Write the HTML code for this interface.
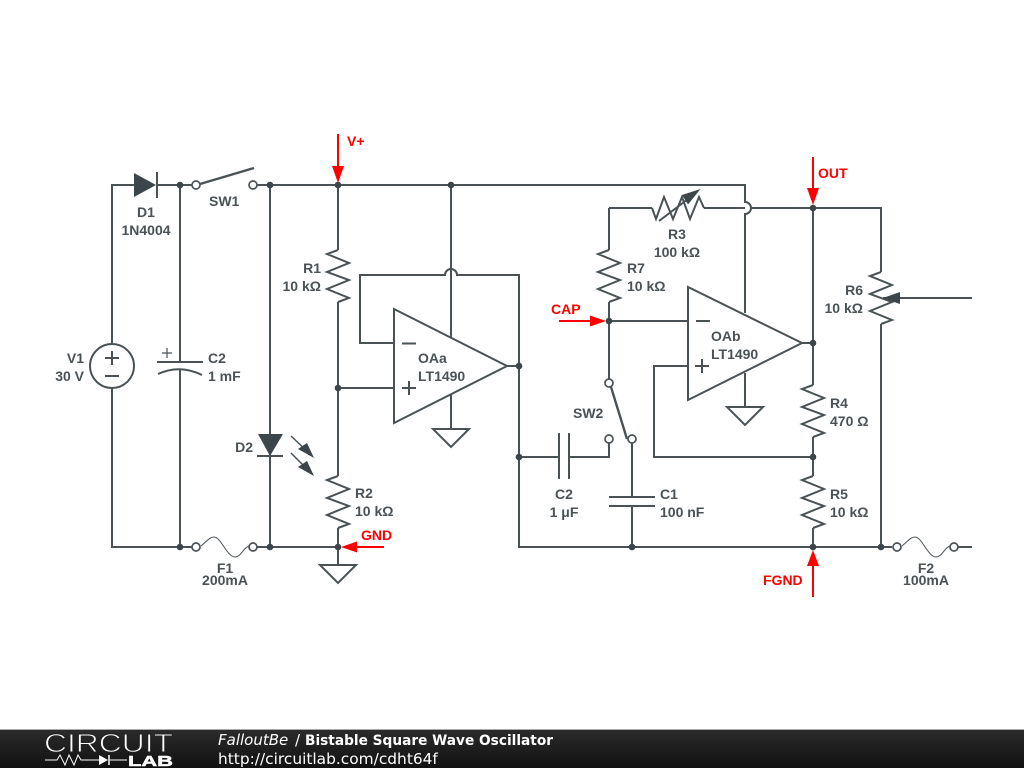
<!DOCTYPE html>
<html><head><meta charset="utf-8"><style>
html,body{margin:0;padding:0;background:#fff;width:1024px;height:768px;overflow:hidden}
svg{display:block}
.w{fill:none;stroke:#4a5256;stroke-width:2}
.t{font:bold 14px "Liberation Sans",sans-serif;fill:#4a5256}
.m{text-anchor:middle}.e{text-anchor:end}
.red{font:bold 14px "Liberation Sans",sans-serif;fill:#f00}
.d{fill:#3c4549}
.o{fill:#fff;stroke:#4a5256;stroke-width:1.7}
.th{fill:none;stroke:#4a5256;stroke-width:1}
.r{fill:#f00}.rl{stroke:#f00;stroke-width:2;fill:none}
</style></head><body>
<svg width="1024" height="768" viewBox="0 0 1024 768" xmlns="http://www.w3.org/2000/svg">
<defs>
<path id="res" d="M0,0L-11,4L11,13L-11,22L11,30L-11,39L11,48L0,52" fill="none" stroke="#4a5256" stroke-width="2"/>
<path id="gnd" d="M-18,0H18L0,18Z" fill="#fff" stroke="#4a5256" stroke-width="2"/>
<path id="fuse" d="M5,-1C12,-7 14,-10 18,-10C25,-10 31,10 39,10C45,10 47,1 53,-1" fill="none" stroke="#4a5256" stroke-width="1"/>
</defs>

<!-- wires -->
<path class="w" d="M112,344V185H134M157,185H192M257,185H745V202A6,6 0 0 1 745,214V313"/>
<path class="w" d="M112,388V547H192M257,547H338M180,185V362M180,369V547M270,185V547"/>
<path class="w" d="M338,185V250M338,302V476M338,528V565M338,388H394"/>
<path class="w" d="M451,185V338M451,395V429M394,343H360V275H445A6,6 0 0 1 457,275H519V547H892M507,366H519"/>
<path class="w" d="M519,457H559M569,457H609V443M632,443V497M632,506V547"/>
<path class="w" d="M609,208V250M609,302V379M609,321H688M609,208H652M704,208H745M751,208H881V272M881,324V547M813,208V385M813,437V476M813,528V547M802,343H813"/>
<path class="w" d="M688,366H654V457H813M745,373V407M958,547H972"/>
<path class="w" d="M883,298H972"/>

<!-- D1 -->
<path class="d" d="M134,173L156,185L134,197Z"/>
<path class="w" d="M157,172V198"/>
<!-- SW1 -->
<path class="w" d="M200,184L254,168" style="stroke-width:2.4"/>
<!-- V1 -->
<circle class="o" cx="112" cy="366" r="22" style="stroke-width:2"/>
<path class="w" d="M105,358H119M112,351V365M105,376H119"/>
<!-- C2 polar -->
<path class="w" d="M157,362H203"/>
<path class="w" d="M158,374Q180,364 202,375"/>
<path class="th" d="M162,353H172M167,348V358" style="stroke-width:1.2"/>
<!-- D2 -->
<path class="d" d="M258,434H283L270,456Z"/>
<path class="w" d="M257,456H283"/>
<path class="w" d="M291,436L308,452M291,453L308,470" style="stroke-width:1.5"/>
<path class="d" d="M314,458L298,449L307,443Z"/>
<path class="d" d="M314,476L298,467L307,461Z"/>

<!-- resistors -->
<use href="#res" x="338" y="250"/>
<use href="#res" x="338" y="476"/>
<use href="#res" x="609" y="250"/>
<use href="#res" x="813" y="385"/>
<use href="#res" x="813" y="476"/>
<use href="#res" x="881" y="272"/>
<path class="w" d="M652,208L656,219L664,197L673,219L682,197L690,219L699,197L704,208"/>
<path class="w" d="M659,221L688,199"/>
<path class="d" d="M700.5,189L682,195L688,204.5Z"/>
<path class="d" d="M883,298L900,292V304Z"/>

<!-- grounds -->
<use href="#gnd" x="338" y="565"/>
<use href="#gnd" x="451" y="429"/>
<use href="#gnd" x="745" y="407"/>

<!-- opamps -->
<path d="M394,309V423L507,366Z" fill="#fff" stroke="#4a5256" stroke-width="2"/>
<path d="M688,287V400L802,343Z" fill="#fff" stroke="#4a5256" stroke-width="2"/>
<path class="w" d="M402,343.5H416M402,388H416M409,381V395M696,321H710M695,366H709M702,359V373"/>

<!-- C2/C1 -->
<path class="w" d="M559,433V479M569,433V479M609,497H655M609,506H655"/>
<!-- SW2 -->
<path class="w" d="M611,387L627,439" style="stroke-width:2.4"/>

<!-- fuses -->
<use href="#fuse" x="196" y="547"/>
<use href="#fuse" x="897" y="547"/>

<!-- terminals -->
<circle class="o" cx="196" cy="185" r="4"/><circle class="o" cx="253" cy="185" r="4"/>
<circle class="o" cx="196" cy="547" r="4"/><circle class="o" cx="253" cy="547" r="4"/>
<circle class="o" cx="897" cy="547" r="4"/><circle class="o" cx="954" cy="547" r="4"/>
<circle class="o" cx="609" cy="383" r="4"/><circle class="o" cx="609" cy="439" r="4"/><circle class="o" cx="632" cy="439" r="4"/>

<!-- dots -->
<g class="d">
<circle cx="180" cy="185" r="3.3"/><circle cx="270" cy="185" r="3.3"/><circle cx="338" cy="185" r="3.3"/><circle cx="451" cy="185" r="3.3"/>
<circle cx="180" cy="547" r="3.3"/><circle cx="270" cy="547" r="3.3"/><circle cx="338" cy="547" r="3.3"/>
<circle cx="338" cy="388" r="3.3"/><circle cx="519" cy="366" r="3.3"/><circle cx="519" cy="457" r="3.3"/>
<circle cx="632" cy="547" r="3.3"/><circle cx="813" cy="547" r="3.3"/><circle cx="881" cy="547" r="3.3"/>
<circle cx="609" cy="321" r="3.3"/><circle cx="813" cy="208" r="3.3"/><circle cx="813" cy="343" r="3.3"/><circle cx="813" cy="457" r="3.3"/>
</g>

<!-- red probes -->
<path class="rl" d="M338,134V170M384,547H355M559,321H594M813,157V192M813,597V562"/>
<path class="r" d="M332,166H344L338,183Z"/>
<path class="r" d="M341,547L357,541.5V552.5Z"/>
<path class="r" d="M606,321L590,315.5V326.5Z"/>
<path class="r" d="M807,188H819L813,205Z"/>
<path class="r" d="M807,566H819L813,550Z"/>
<text class="red" x="347" y="146">V+</text>
<text class="red" x="361" y="540">GND</text>
<text class="red" x="551" y="314">CAP</text>
<text class="red" x="818" y="178">OUT</text>
<text class="red" x="763" y="585">FGND</text>

<!-- labels -->
<text class="t m" x="146" y="217">D1</text><text class="t m" x="146" y="235">1N4004</text>
<text class="t" x="209" y="206">SW1</text>
<text class="t e" x="84" y="363">V1</text><text class="t e" x="84" y="381">30 V</text>
<text class="t" x="208" y="363">C2</text><text class="t" x="208" y="381">1 mF</text>
<text class="t e" x="253" y="452">D2</text>
<text class="t e" x="321" y="273">R1</text><text class="t e" x="321" y="291">10 kΩ</text>
<text class="t" x="355" y="498">R2</text><text class="t" x="355" y="516">10 kΩ</text>
<text class="t m" x="225" y="573">F1</text><text class="t m" x="225" y="585">200mA</text>
<text class="t" x="418" y="363">OAa</text><text class="t" x="418" y="381">LT1490</text>
<text class="t" x="573" y="418">SW2</text>
<text class="t m" x="564" y="499">C2</text><text class="t m" x="564" y="517">1 μF</text>
<text class="t" x="660" y="499">C1</text><text class="t" x="660" y="517">100 nF</text>
<text class="t m" x="677" y="239">R3</text><text class="t m" x="677" y="257">100 kΩ</text>
<text class="t" x="627" y="273">R7</text><text class="t" x="627" y="291">10 kΩ</text>
<text class="t" x="711" y="341">OAb</text><text class="t" x="711" y="359">LT1490</text>
<text class="t e" x="863" y="295">R6</text><text class="t e" x="863" y="313">10 kΩ</text>
<text class="t" x="830" y="408">R4</text><text class="t" x="830" y="426">470 Ω</text>
<text class="t" x="830" y="499">R5</text><text class="t" x="830" y="517">10 kΩ</text>
<text class="t m" x="926" y="573">F2</text><text class="t m" x="926" y="585">100mA</text>

<!-- footer -->
<defs><linearGradient id="fg" x1="0" y1="0" x2="0" y2="1"><stop offset="0" stop-color="#2c2c2c"/><stop offset="1" stop-color="#111"/></linearGradient></defs>
<rect x="0" y="729" width="1024" height="39" fill="url(#fg)"/>
<rect x="0" y="729" width="1024" height="1" fill="#aaa"/>
<text x="44" y="752" textLength="129" lengthAdjust="spacingAndGlyphs" style="font:26px 'Liberation Sans',sans-serif;fill:#fff;stroke:#222;stroke-width:.9">CIRCUIT</text>
<text x="128" y="766" textLength="45" lengthAdjust="spacingAndGlyphs" style="font:bold 15px 'Liberation Sans',sans-serif;fill:#fff;stroke:#fff;stroke-width:.5">LAB</text>
<path d="M45,760H57L60,755L65,765L69,755L74,765L78,755L81,760H99M110,760H127" fill="none" stroke="#fff" stroke-width="1"/>
<path d="M99,755L108,760L99,765Z" fill="#fff"/><path d="M109,755V765" stroke="#fff" stroke-width="1.5"/>
<text x="218" y="745" style="font:italic 15px 'DejaVu Sans',sans-serif;fill:#fff">FalloutBe</text>
<text x="295" y="745" style="font:15px 'DejaVu Sans',sans-serif;fill:#fff">/</text>
<text x="305" y="745" textLength="248" lengthAdjust="spacingAndGlyphs" style="font:bold 14px 'DejaVu Sans',sans-serif;fill:#fff">Bistable Square Wave Oscillator</text>
<text x="218" y="764" style="font:15.4px 'DejaVu Sans',sans-serif;fill:#fff">http://circuitlab.com/cdht64f</text>
</svg>
</body></html>
